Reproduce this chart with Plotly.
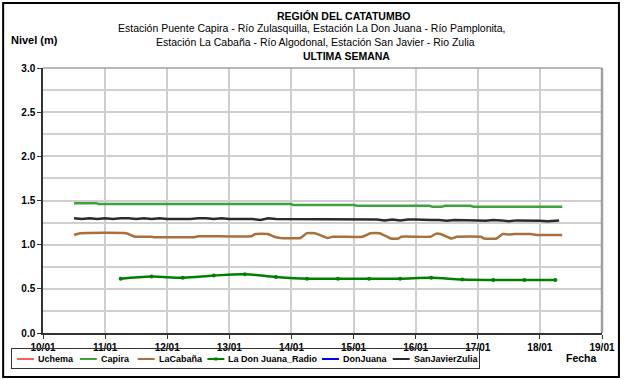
import pandas as pd
import plotly.graph_objects as go

# --- data (day of January, fractional) ---
capira_day = [10.5, 10.85, 10.9, 13.99, 14.03, 15.0, 15.05, 16.22, 16.27, 16.42,
              16.47, 16.88, 16.93, 18.36]
capira_val = [1.47, 1.47, 1.46, 1.46, 1.45, 1.45, 1.44, 1.44, 1.43, 1.43,
              1.44, 1.44, 1.43, 1.43]

cabana_day = [10.5, 10.6, 11.34, 11.48, 11.74, 11.8, 12.44, 12.5, 13.35, 13.42,
              13.62, 13.72, 13.82, 14.14, 14.25, 14.38, 14.58, 14.66, 15.14, 15.27,
              15.42, 15.6, 15.72, 15.77, 16.24, 16.33, 16.4, 16.58, 16.66, 17.05,
              17.1, 17.3, 17.4, 17.5, 17.6, 17.85, 17.95, 18.36]
cabana_val = [1.11, 1.13, 1.13, 1.09, 1.09, 1.085, 1.085, 1.095, 1.095, 1.12,
              1.12, 1.09, 1.075, 1.075, 1.13, 1.13, 1.075, 1.09, 1.09, 1.13,
              1.13, 1.07, 1.07, 1.09, 1.09, 1.125, 1.12, 1.07, 1.09, 1.09,
              1.07, 1.07, 1.12, 1.115, 1.12, 1.12, 1.11, 1.11]

sanjavier_day = [10.5, 10.625, 10.75, 10.875, 11.0, 11.125, 11.25, 11.375, 11.5, 11.625,
                 11.75, 11.875, 12.0, 12.125, 12.25, 12.375, 12.5, 12.625, 12.75, 12.875,
                 13.0, 13.125, 13.25, 13.375, 13.5, 13.625, 13.75, 13.875, 14.0, 14.125,
                 14.25, 14.375, 14.5, 14.625, 14.75, 14.875, 15.0, 15.125, 15.25, 15.375,
                 15.5, 15.625, 15.75, 15.875, 16.0, 16.125, 16.25, 16.375, 16.5, 16.625,
                 16.75, 16.875, 17.0, 17.125, 17.25, 17.375, 17.5, 17.625, 17.75, 17.875,
                 18.0, 18.125, 18.25, 18.31]
sanjavier_val = [1.30, 1.29, 1.30, 1.29, 1.30, 1.29, 1.30, 1.30, 1.29, 1.30,
                 1.29, 1.30, 1.29, 1.29, 1.29, 1.29, 1.30, 1.30, 1.29, 1.30,
                 1.29, 1.29, 1.29, 1.29, 1.28, 1.30, 1.29, 1.29, 1.29, 1.29,
                 1.285, 1.285, 1.285, 1.285, 1.285, 1.285, 1.285, 1.285, 1.285, 1.285,
                 1.275, 1.285, 1.275, 1.285, 1.285, 1.28, 1.28, 1.28, 1.27, 1.28,
                 1.28, 1.28, 1.275, 1.27, 1.28, 1.275, 1.265, 1.275, 1.275, 1.275,
                 1.27, 1.265, 1.27, 1.275]

radio_day = [11.25, 11.75, 12.25, 12.75, 13.25, 13.75, 14.25, 14.75, 15.25, 15.75,
             16.25, 16.75, 17.25, 17.75, 18.25]
radio_val = [0.615, 0.64, 0.625, 0.65, 0.665, 0.635, 0.615, 0.615, 0.615, 0.615,
             0.625, 0.605, 0.60, 0.60, 0.60]

# stations without readings this week
uchema_day = [10.0]
uchema_val = [None]
donjuana_day = [10.0]
donjuana_val = [None]

tick_days = [10, 11, 12, 13, 14, 15, 16, 17, 18, 19]

BASE = pd.Timestamp("2024-01-01")


def to_time(days):
    return [BASE + pd.Timedelta(days=d - 1) for d in days]


FONT = "Arial, Liberation Sans, sans-serif"
C_UCHEMA, C_CAPIRA, C_CABANA = "#ff5a5a", "#3ca33c", "#a8703c"
C_RADIO, C_DONJUANA, C_SANJ = "#008000", "#0000ff", "#2b2b2b"

fig = go.Figure()
fig.add_trace(go.Scatter(x=to_time(uchema_day), y=uchema_val, name="Uchema",
                         mode="lines", line=dict(color=C_UCHEMA, width=2)))
fig.add_trace(go.Scatter(x=to_time(capira_day), y=capira_val, name="Capira",
                         mode="lines", line=dict(color=C_CAPIRA, width=2.5)))
fig.add_trace(go.Scatter(x=to_time(cabana_day), y=cabana_val, name="LaCabaña",
                         mode="lines", line=dict(color=C_CABANA, width=2.5, shape="spline", smoothing=0.4)))
fig.add_trace(go.Scatter(x=to_time(radio_day), y=radio_val, name="La Don Juana_Radio",
                         mode="lines+markers", line=dict(color=C_RADIO, width=2.5, shape="spline"),
                         marker=dict(size=4, color=C_RADIO)))
fig.add_trace(go.Scatter(x=to_time(donjuana_day), y=donjuana_val, name="DonJuana",
                         mode="lines", line=dict(color=C_DONJUANA, width=2)))
fig.add_trace(go.Scatter(x=to_time(sanjavier_day), y=sanjavier_val, name="SanJavierZulia",
                         mode="lines", line=dict(color=C_SANJ, width=2.5)))

L, R, T, B = 43, 604, 68, 333
W, H = 627, 380


def px(x):
    return (x - L) / (R - L)


def py(y):
    return (B - y) / (B - T)


fig.update_layout(
    width=W, height=H,
    margin=dict(l=L, r=W - R, t=T, b=H - B),
    paper_bgcolor="white", plot_bgcolor="white",
    font=dict(family=FONT, size=10, color="black"),
    showlegend=False,
)

fig.update_xaxes(
    type="date",
    range=[to_time([10])[0], to_time([19])[0]],
    tickvals=to_time(tick_days), tickformat="%d/%m",
    tickfont=dict(family=FONT, size=10, weight="bold"),
    showgrid=True, gridcolor="#cfcfcf", gridwidth=1.5,
    showline=True, linecolor="#333333", linewidth=1.5,
    ticks="outside", ticklen=4, tickcolor="#333333",
    zeroline=False, fixedrange=True,
)
fig.update_yaxes(
    range=[0, 3], dtick=0.5, tickformat=".1f",
    tickfont=dict(family=FONT, size=10, weight="bold"),
    showgrid=True, gridcolor="#cfcfcf", gridwidth=1.5,
    minor=dict(dtick=0.25, showgrid=True, gridcolor="#cfcfcf", gridwidth=1.5),
    showline=True, linecolor="#333333", linewidth=1.5,
    ticks="outside", ticklen=4, tickcolor="#333333",
    zeroline=False, fixedrange=True,
)

# plot-area frame (top/right in grey) and outer chart border
fig.add_shape(type="line", xref="paper", yref="paper", x0=0, x1=1, y0=1, y1=1,
              line=dict(color="#a0a0a0", width=1.5))
fig.add_shape(type="line", xref="paper", yref="paper", x0=1, x1=1, y0=0, y1=1,
              line=dict(color="#a0a0a0", width=2.5))
fig.add_shape(type="rect", xref="paper", yref="paper",
              x0=px(3), x1=px(621), y0=py(3), y1=py(377),
              line=dict(color="black", width=2), layer="above")

# titles
fig.add_annotation(xref="paper", yref="paper", x=px(345), y=py(16), text="<b>REGIÓN DEL CATATUMBO</b>",
                   showarrow=False, font=dict(size=10.5), xanchor="center", yanchor="middle")
fig.add_annotation(xref="paper", yref="paper", x=px(313), y=py(28.5),
                   text="Estación Puente Capira - Río Zulasquilla, Estación La Don Juana - Río Pamplonita,",
                   showarrow=False, font=dict(size=10.5), xanchor="center", yanchor="middle")
fig.add_annotation(xref="paper", yref="paper", x=px(316), y=py(42),
                   text="Estación La Cabaña - Río Algodonal, Estación San Javier - Rio Zulia",
                   showarrow=False, font=dict(size=10.5), xanchor="center", yanchor="middle")
fig.add_annotation(xref="paper", yref="paper", x=px(348), y=py(56), text="<b>ULTIMA SEMANA</b>",
                   showarrow=False, font=dict(size=10.5), xanchor="center", yanchor="middle")
fig.add_annotation(xref="paper", yref="paper", x=px(9), y=py(40), text="<b>Nivel (m)</b>",
                   showarrow=False, font=dict(size=11), xanchor="left", yanchor="middle")
fig.add_annotation(xref="paper", yref="paper", x=px(583), y=py(358), text="<b>Fecha</b>",
                   showarrow=False, font=dict(size=10.5), xanchor="center", yanchor="middle")

# legend frame drawn as a bordered empty annotation box
fig.add_annotation(xref="paper", yref="paper", x=px(11), y=py(348), xanchor="left", yanchor="top",
                   text=" ", showarrow=False, width=467, height=19, borderpad=0,
                   bordercolor="#333333", borderwidth=1, font=dict(size=9))

# legend entries with short line samples
legend_items = [
    ("Uchema", C_UCHEMA, 17, False),
    ("Capira", C_CAPIRA, 80, False),
    ("LaCabaña", C_CABANA, 138, False),
    ("La Don Juana_Radio", C_RADIO, 208, True),
    ("DonJuana", C_DONJUANA, 323, False),
    ("SanJavierZulia", C_SANJ, 394, False),
]
LEG_Y = 359
for name, color, x0, marker in legend_items:
    fig.add_shape(type="line", xref="paper", yref="paper",
                  x0=px(x0), x1=px(x0 + 17), y0=py(LEG_Y), y1=py(LEG_Y),
                  line=dict(color=color, width=2))
    if marker:
        fig.add_shape(type="rect", xref="paper", yref="paper",
                      x0=px(x0 + 7), x1=px(x0 + 10), y0=py(LEG_Y - 1.5), y1=py(LEG_Y + 1.5),
                      line=dict(width=0), fillcolor=color)
    fig.add_annotation(xref="paper", yref="paper", x=px(x0 + 19), y=py(LEG_Y), text=f"<b>{name}</b>",
                       showarrow=False, font=dict(size=9), xanchor="left", yanchor="middle")

fig.write_html("out.html")
